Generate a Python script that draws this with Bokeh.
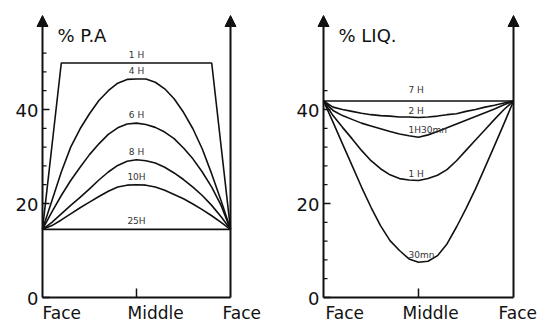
from bokeh.plotting import figure
from bokeh.layouts import row
from bokeh.models import Range1d, Arrow, NormalHead
from bokeh.core.properties import value
from bokeh.embed import file_html
from bokeh.resources import INLINE

# ---------------- data ----------------
pos_x = [0.0, 0.1, 0.2, 0.3, 0.4, 0.5, 0.6, 0.7, 0.8, 0.9, 1.0,
         1.1, 1.2, 1.3, 1.4, 1.5, 1.6, 1.7, 1.8, 1.9, 2.0]
pos_labels = ["Face", "Middle", "Face"]
pos_ticks = [0, 1, 2]

# left panel: % P.A
pa_1h_x = [0, 0.2, 1.8, 2.0]
pa_1h = [14.5, 49.9, 49.9, 14.5]
pa_4h = [14.5, 20.6, 26.7, 32.0, 35.9, 39.1, 41.9, 44.0, 45.6, 46.4, 46.5,
         46.5, 45.8, 44.4, 42.3, 39.4, 35.9, 31.6, 26.3, 20.6, 14.5]
pa_6h = [14.5, 18.2, 21.7, 24.9, 27.7, 30.4, 32.7, 34.7, 36.1, 36.9, 37.1,
         36.8, 36.2, 35.2, 33.8, 31.8, 29.5, 26.7, 23.5, 19.6, 14.5]
pa_8h = [14.5, 16.0, 17.8, 19.6, 21.3, 23.1, 25.0, 26.7, 28.1, 29.0, 29.3,
         29.1, 28.6, 27.7, 26.5, 25.1, 23.5, 21.7, 19.6, 17.2, 14.5]
pa_10h = [14.5, 15.3, 16.5, 17.8, 19.1, 20.3, 21.5, 22.6, 23.5, 23.9, 24.0,
          23.9, 23.5, 22.8, 21.9, 21.0, 19.9, 18.7, 17.4, 16.0, 14.5]
pa_25h_x = [0, 1, 2]
pa_25h = [14.5, 14.5, 14.5]
pa_names = ["1 H", "4 H", "6 H", "8 H", "10H", "25H"]
pa_minor = [24, 28, 32, 36, 44, 48, 52]

# right panel: % LIQ.
liq_7h_x = [0, 1, 2]
liq_7h = [41.8, 41.8, 41.8]
liq_2h = [41.8, 40.5, 40.0, 39.6, 39.2, 38.9, 38.7, 38.6, 38.4, 38.4, 38.3,
          38.4, 38.6, 38.9, 39.1, 39.6, 40.0, 40.5, 40.9, 41.4, 41.8]
liq_1h30 = [41.8, 39.8, 38.7, 37.9, 37.1, 36.5, 35.9, 35.3, 34.8, 34.4, 34.1,
            34.6, 35.3, 36.1, 36.9, 37.7, 38.5, 39.3, 40.1, 41.0, 41.8]
liq_1h = [41.8, 38.7, 36.2, 33.8, 31.3, 29.1, 27.4, 26.1, 25.3, 25.0, 24.9,
          25.3, 26.0, 27.2, 29.1, 31.3, 33.5, 35.7, 37.9, 40.0, 41.8]
liq_30mn = [41.8, 37.3, 32.7, 28.1, 23.5, 19.2, 15.3, 12.1, 10.0, 8.2, 7.5,
            7.7, 8.9, 11.4, 15.0, 18.9, 23.1, 27.7, 32.3, 37.0, 41.8]
liq_names = ["7 H", "2 H", "1H30mn", "1 H", "30mn"]
liq_minor = [4, 8, 12, 16, 24, 28, 32, 36, 44]

y_major = [0, 20, 40]
y_top = 60

FONT = value("DejaVu Sans")
INK = "#111111"
PX_PER_Y = 4.7
FIG_H = 321
ZERO_FROM_TOP = 297  # pixel distance from figure top to y=0


def panel(width, left_px, px_per_x, title, minor):
    a = -left_px / px_per_x
    b = a + width / px_per_x
    top = ZERO_FROM_TOP / PX_PER_Y
    bottom = top - FIG_H / PX_PER_Y
    p = figure(width=width, height=FIG_H, x_range=Range1d(a, b),
               y_range=Range1d(bottom, top), x_axis_type=None, y_axis_type=None,
               output_backend="svg", toolbar_location=None, min_border=0,
               outline_line_color=None, background_fill_color="white",
               border_fill_color="white")
    for g in p.grid:
        g.visible = False
    # axes with arrows
    for xx in (pos_ticks[0], pos_ticks[-1]):
        p.add_layout(Arrow(end=NormalHead(size=11, fill_color=INK, line_color=INK),
                           x_start=xx, y_start=0, x_end=xx, y_end=y_top,
                           line_width=2, line_color=INK))
    p.line([pos_ticks[0], pos_ticks[-1]], [0, 0], line_width=2, line_color=INK)
    # ticks
    p.ray(x=[0] * len(minor), y=minor, length=4, length_units="screen",
          angle=0, line_width=1.3, line_color=INK)
    p.ray(x=[0] * len(y_major), y=y_major, length=7, length_units="screen",
          angle=0, line_width=1.5, line_color=INK)
    p.ray(x=[pos_ticks[1]], y=[0], length=9, length_units="screen",
          angle=1.5708, line_width=1.5, line_color=INK)
    p.text(x=[0] * len(y_major), y=y_major, text=[str(v) for v in y_major],
           text_font=FONT, text_font_size="18px", text_align="right",
           text_baseline="alphabetic", x_offset=-4, y_offset=1, text_color=INK)
    p.text(x=[0], y=[y_top], text=[title], text_font=FONT, text_font_size="18px",
           text_align="left", text_baseline="alphabetic", x_offset=15,
           y_offset=20, text_color=INK)
    return p


# ---------------- left panel ----------------
p1 = panel(270, 42, 94, "% P.A", pa_minor)
p1.line(pa_1h_x, pa_1h, line_width=1.6, line_color=INK)
p1.line(pa_25h_x, pa_25h, line_width=1.6, line_color=INK)
for ys in (pa_4h, pa_6h, pa_8h, pa_10h):
    p1.line(pos_x, ys, line_width=1.6, line_color=INK)
mids = [pa_1h[1], pa_4h[10], pa_6h[10], pa_8h[10], pa_10h[10], pa_25h[1]]
p1.text(x=[1] * len(mids), y=mids, text=pa_names, text_font=FONT,
        text_font_size="9px", text_align="center", text_baseline="bottom",
        y_offset=-3, text_color="#333333")
p1.text(x=pos_ticks, y=[0, 0, 0], text=pos_labels, text_font=FONT,
        text_font_size="17px", text_align="left", text_baseline="alphabetic",
        x_offset=[0, -9, -8], y_offset=15, text_color=INK)

# ---------------- right panel ----------------
p2 = panel(271, 53, 95, "% LIQ.", liq_minor)
p2.line(liq_7h_x, liq_7h, line_width=1.6, line_color=INK)
for ys in (liq_2h, liq_1h30, liq_1h, liq_30mn):
    p2.line(pos_x, ys, line_width=1.6, line_color=INK)
mids2 = [liq_7h[1], liq_2h[10], liq_1h30[10], liq_1h[10], liq_30mn[10]]
p2.text(x=[1] * len(mids2), y=mids2, text=liq_names, text_font=FONT,
        text_font_size="9px", text_align="left", text_baseline="bottom",
        x_offset=-10, y_offset=[-6, -1, -2, -1, -2], text_color="#333333")
p2.text(x=pos_ticks, y=[0, 0, 0], text=pos_labels, text_font=FONT,
        text_font_size="17px", text_align="left", text_baseline="alphabetic",
        x_offset=[2, -16, -15], y_offset=15, text_color=INK)

layout = row(p1, p2)
open("out.html", "w").write(file_html(layout, INLINE))
